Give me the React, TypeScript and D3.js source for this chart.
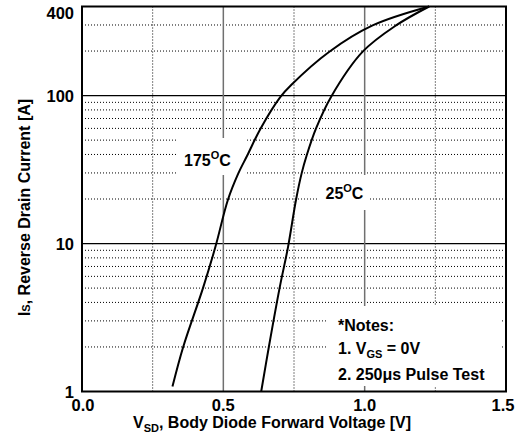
import React from "react";
import * as d3 from "d3";

const xTicks = [0, 0.5, 1.0, 1.5];
const xTickLabels = ["0.0", "0.5", "1.0", "1.5"];
const xMinorGrid = [0.25, 0.75, 1.25];
const yTicks = [1, 10, 100, 400];
const yTickLabels = ["1", "10", "100", "400"];
const yMinorGrid = [2, 3, 4, 5, 6, 7, 8, 9, 20, 30, 40, 50, 60, 70, 80, 90, 200, 300];

const v175 = [0.32, 0.358, 0.428, 0.472, 0.516, 0.553, 0.585, 0.632, 0.702, 0.740, 0.875, 1.028, 1.228];
const i175 = [1.08, 2, 5, 9.5, 19.7, 29.8, 39.5, 60, 98, 118, 198, 298, 400];
const v25 = [0.634, 0.661, 0.699, 0.729, 0.757, 0.777, 0.795, 0.828, 0.881, 0.993, 1.111, 1.228];
const i25 = [1, 2, 5, 9.5, 19.7, 29.8, 39.5, 60, 98, 198, 298, 400];

const L = 82, R = 506, T = 6.5, B = 391.5;

export default function App() {
  const x = d3.scaleLinear().domain([0, 1.5]).range([L, R]);
  const y = d3.scaleLog().domain([1, 400]).range([B, T]);
  const line = d3
    .line<[number, number]>()
    .x((d) => x(d[0]))
    .y((d) => y(d[1]))
    .curve(d3.curveCatmullRom.alpha(0.5));
  const d175 = line(v175.map((v, i) => [v, i175[i]] as [number, number]))!;
  const d25 = line(v25.map((v, i) => [v, i25[i]] as [number, number]))!;
  const font = "'Liberation Sans', Arial, sans-serif";

  return (
    <svg
      width={523}
      height={448}
      style={{ position: "absolute", left: 0, top: 0, background: "#fff" }}
      fontFamily={font}
      fontWeight="bold"
    >
      <rect x={0} y={0} width={523} height={448} fill="#fff" />
      {yMinorGrid.map((v) => (
        <line key={"ym" + v} x1={L} x2={R} y1={y(v)} y2={y(v)} stroke="#000" strokeWidth={1} strokeDasharray="1,2" />
      ))}
      {xMinorGrid.map((v) => (
        <line key={"xm" + v} x1={x(v)} x2={x(v)} y1={T} y2={B} stroke="#000" strokeWidth={1} strokeDasharray="1,2" />
      ))}
      {[10, 100].map((v) => (
        <line key={"yM" + v} x1={L} x2={R} y1={y(v)} y2={y(v)} stroke="#000" strokeWidth={1.3} />
      ))}
      {[0.5, 1.0].map((v) => (
        <line key={"xM" + v} x1={x(v)} x2={x(v)} y1={T} y2={B} stroke="#707070" strokeWidth={1.5} />
      ))}
      <rect x={177} y={138} width={69} height={37} fill="#fff" />
      <rect x={317} y={175} width={53} height={35} fill="#fff" />
      <rect x={328} y={306} width={174} height={80} fill="#fff" />
      <path d={d175} fill="none" stroke="#000" strokeWidth={2} />
      <path d={d25} fill="none" stroke="#000" strokeWidth={2} />
      <rect x={L} y={T} width={R - L} height={B - T} fill="none" stroke="#000" strokeWidth={2} />
      {yTicks.map((v, i) => (
        <text key={"yt" + v} x={74} y={v === 400 ? 18.5 : y(v) + 6} textAnchor="end" fontSize={16.5}>
          {yTickLabels[i]}
        </text>
      ))}
      {xTicks.map((v, i) => (
        <text key={"xt" + v} x={v === 1.5 ? x(v) - 3 : x(v) + (v === 0 ? 1 : 0)} y={410.5} textAnchor="middle" fontSize={16.5}>
          {xTickLabels[i]}
        </text>
      ))}
      <text x={133} y={428} fontSize={16}>
        V<tspan fontSize={11} dy={4}>SD</tspan>
        <tspan dy={-4}>, Body Diode Forward Voltage [V]</tspan>
      </text>
      <text transform="translate(30,207.5) rotate(-90)" textAnchor="middle" fontSize={16}>
        I<tspan fontSize={11}>S</tspan>
        <tspan>, Reverse Drain Current [A]</tspan>
      </text>
      <text x={184} y={165.5} fontSize={16}>
        175<tspan fontSize={11} dy={-7}>O</tspan>
        <tspan dy={7}>C</tspan>
      </text>
      <text x={325.5} y={198.5} fontSize={16}>
        25<tspan fontSize={11} dy={-7}>O</tspan>
        <tspan dy={7}>C</tspan>
      </text>
      <text x={338} y={331} fontSize={16}>*Notes:</text>
      <text x={338} y={354} fontSize={16}>
        1. V<tspan fontSize={11} dy={4}>GS</tspan>
        <tspan dy={-4}> = 0V</tspan>
      </text>
      <text x={338} y={380} fontSize={16}>2. 250μs Pulse Test</text>
    </svg>
  );
}
